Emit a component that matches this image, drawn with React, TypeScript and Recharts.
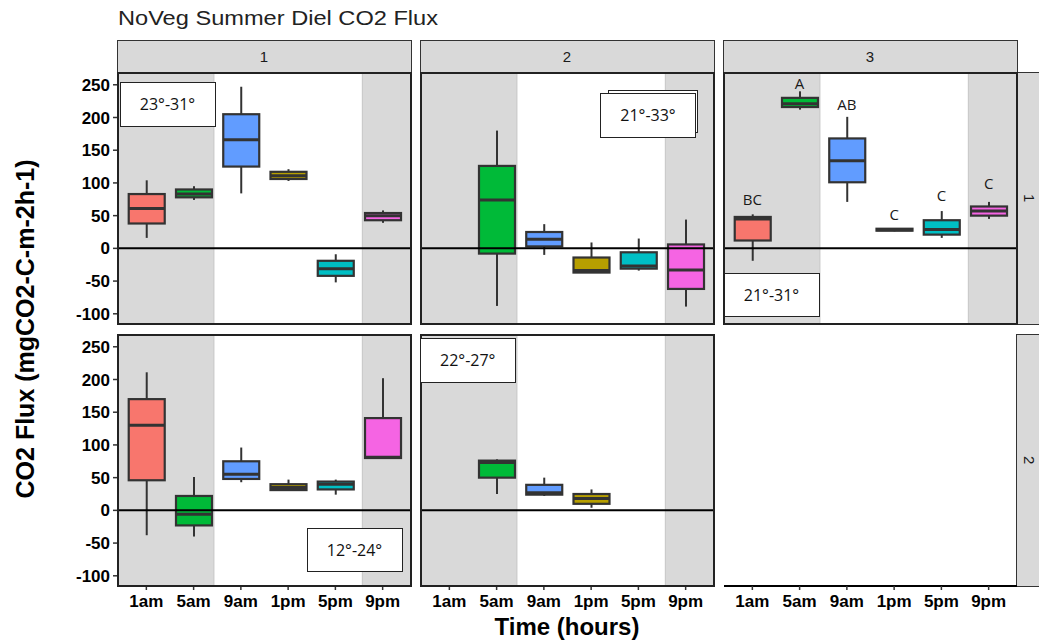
import React from 'react';
import { ComposedChart, Bar, Scatter, XAxis, YAxis, ReferenceArea, ReferenceLine } from 'recharts';

const times = ['1am', '5am', '9am', '1pm', '5pm', '9pm'];
const timeFills = ['#F8766D', '#00BA38', '#619CFF', '#B79F00', '#00BFC4', '#F564E3'];
const yTicks = [-100, -50, 0, 50, 100, 150, 200, 250];
const yDomain = [-115.6, 268];
// dark hours shading, in x units (times sit at 1..6)
const nightBands = [[0.4, 2.43], [5.57, 6.6]];

// [lower whisker, q1, median, q3, upper whisker] per time, null = no data
const site1Row1 = [
  [16, 38, 61, 83, 104],
  [74, 78, 83, 90, 95],
  [84, 125, 166, 205, 247],
  [103, 106, 111, 117, 121],
  [-52, -42, -31, -19, -9],
  [39, 43, 50, 54, 58],
];
const site2Row1 = [
  null,
  [-88, -8, 74, 126, 180],
  [-10, 3, 14, 25, 37],
  [-37, -37, -34, -14, 9],
  [-34, -31, -27, -6, 15],
  [-89, -62, -33, 6, 44],
];
const site3Row1 = [
  [-19, 12, 45, 48, 52],
  [212, 216, 221, 230, 240],
  [71, 101, 134, 168, 201],
  [26, 27, 28.5, 30, 31],
  [16, 21, 29, 43, 57],
  [45, 50, 57, 64, 71],
];
const site1Row2 = [
  [-38, 46, 130, 170, 211],
  [-40, -23, -6, 22, 51],
  [43, 48, 55, 75, 96],
  [31, 31, 35, 40, 47],
  [24, 32, 40, 44, 47],
  [80, 80, 81, 141, 202],
];
const site2Row2 = [
  null,
  [25, 50, 73, 76, 78],
  [22, 24, 27, 39, 50],
  [4, 10, 18, 25, 32],
  null,
  null,
];
const site3Letters = ['BC', 'A', 'AB', 'C', 'C', 'C'];
const site3LetterY = [76, 252, 220, 53, 82, 100];

const COLS = [117.5, 420.5, 723.5];
const ROWS = [72.5, 334.5];
const PW = 293;
const PH = 251;
const EDGE = '#333333';

const toRows = (boxes: (number[] | null)[], letters?: string[], letterY?: number[]) =>
  boxes
    .map((b, i) =>
      b
        ? {
            x: i + 1,
            time: times[i],
            fill: timeFills[i],
            lo: b[0],
            q1: b[1],
            med: b[2],
            q3: b[3],
            hi: b[4],
            letter: letters ? letters[i] : undefined,
            letterY: letterY ? letterY[i] : undefined,
          }
        : null
    )
    .filter(Boolean) as any[];

const BoxShape = (props: any) => {
  const { x, y, width, height, payload } = props;
  if (!payload) return null;
  const top = Math.min(y, y + height);
  const h = Math.abs(height);
  const k = h / (payload.hi - payload.lo);
  const py = (v: number) => top + (payload.hi - v) * k;
  const cx = x + width / 2;
  return (
    <g>
      <line x1={cx} x2={cx} y1={py(payload.hi)} y2={py(payload.q3)} stroke={EDGE} strokeWidth={2} />
      <line x1={cx} x2={cx} y1={py(payload.q1)} y2={py(payload.lo)} stroke={EDGE} strokeWidth={2} />
      <rect
        x={x}
        y={py(payload.q3)}
        width={width}
        height={Math.max(py(payload.q1) - py(payload.q3), 0.5)}
        fill={payload.fill}
        stroke={EDGE}
        strokeWidth={2.2}
      />
      <line x1={x} x2={x + width} y1={py(payload.med)} y2={py(payload.med)} stroke={EDGE} strokeWidth={3} />
    </g>
  );
};

const LetterShape = (props: any) => (
  <text
    x={props.cx}
    y={props.cy}
    textAnchor="middle"
    dominantBaseline="central"
    fontFamily="'Open Sans', sans-serif"
    fontSize={15}
    fill="#1a1a1a"
  >
    {props.payload.letter}
  </text>
);

type PanelProps = {
  rows: any[];
  col: number;
  row: number;
  showY?: boolean;
  showX?: boolean;
  empty?: boolean;
  letters?: boolean;
};

const Panel = ({ rows, col, row, showY, showX, empty, letters }: PanelProps) => {
  const yw = showY ? 60 : 0;
  const xh = showX ? 45 : 0;
  const left = COLS[col];
  const top = ROWS[row];
  return (
    <>
      <div style={{ position: 'absolute', left: left - yw, top }}>
        <ComposedChart width={PW + yw} height={PH + xh} data={rows} margin={{ top: 0, right: 0, bottom: 0, left: 0 }}>
          <XAxis
            type="number"
            dataKey="x"
            domain={[0.4, 6.6]}
            ticks={[1, 2, 3, 4, 5, 6]}
            allowDataOverflow
            interval={0}
            hide={!showX}
            height={xh}
            tickFormatter={(v: number) => times[v - 1]}
            tick={{ fill: '#000', fontSize: 17, fontWeight: 'bold' }}
            tickLine={{ stroke: EDGE, strokeWidth: 1.5 }}
            tickSize={4}
            tickMargin={5}
            axisLine={empty ? { stroke: '#000', strokeWidth: 2 } : false}
          />
          <YAxis
            type="number"
            domain={yDomain}
            ticks={yTicks}
            allowDataOverflow
            interval={0}
            hide={!showY}
            width={yw}
            tick={{ fill: '#000', fontSize: 17, fontWeight: 'bold' }}
            tickLine={{ stroke: EDGE, strokeWidth: 1.5 }}
            tickSize={5}
            tickMargin={3}
            axisLine={false}
          />
          {!empty &&
            nightBands.map((b, i) => (
              <ReferenceArea key={i} x1={b[0]} x2={b[1]} fill="#d9d9d9" fillOpacity={1} stroke="#c6c6c6" strokeWidth={1} />
            ))}
          {!empty && (
            <Bar dataKey={(d: any) => [d.lo, d.hi]} barSize={36} shape={BoxShape} isAnimationActive={false} />
          )}
          {letters && <Scatter dataKey="letterY" shape={LetterShape} isAnimationActive={false} />}
          {!empty && <ReferenceLine y={0} stroke="#000" strokeWidth={2} />}
        </ComposedChart>
      </div>
      {!empty && (
        <div
          style={{
            position: 'absolute',
            left: left - 1,
            top: top - 1,
            width: PW + 2,
            height: PH + 2,
            border: '2px solid #222',
            boxSizing: 'border-box',
            pointerEvents: 'none',
          }}
        />
      )}
    </>
  );
};

const tempLabels = [
  { text: '23°-31°', left: 119.5, top: 81.5, w: 96, h: 45 },
  { text: '21°-33°', left: 600, top: 92.5, w: 96, h: 45.5, shadow: true },
  { text: '21°-31°', left: 723.5, top: 272.5, w: 96, h: 44 },
  { text: '12°-24°', left: 306.5, top: 527.5, w: 96, h: 44 },
  { text: '22°-27°', left: 419.5, top: 337.5, w: 96.5, h: 45 },
];

const stripStyle: React.CSSProperties = {
  position: 'absolute',
  background: '#d9d9d9',
  border: '1.5px solid #333',
  boxSizing: 'border-box',
  display: 'flex',
  alignItems: 'center',
  justifyContent: 'center',
  fontSize: 15,
  color: '#1a1a1a',
};

export default function App() {
  return (
    <div
      style={{
        position: 'absolute',
        left: 0,
        top: 0,
        width: 1039,
        height: 644,
        background: '#fff',
        overflow: 'hidden',
        fontFamily: "'Liberation Sans', Arial, sans-serif",
      }}
    >
      <div
        style={{
          position: 'absolute',
          left: 118,
          top: 8,
          fontSize: 20,
          lineHeight: 1,
          color: '#222',
          whiteSpace: 'nowrap',
          transform: 'scaleX(1.18)',
          transformOrigin: 'left center',
        }}
      >
        NoVeg Summer Diel CO2 Flux
      </div>

      {['1', '2', '3'].map((s, i) => (
        <div key={s} style={{ ...stripStyle, left: COLS[i] - 1, top: 40, width: PW + 2, height: 33.5 }}>
          {s}
        </div>
      ))}
      {['1', '2'].map((s, i) => (
        <div key={s} style={{ ...stripStyle, left: 1016, top: ROWS[i] - 1, width: 25, height: PH + 2, borderRight: 'none' }}>
          <span style={{ writingMode: 'vertical-rl', lineHeight: 1 }}>{s}</span>
        </div>
      ))}

      <Panel rows={toRows(site1Row1)} col={0} row={0} showY />
      <Panel rows={toRows(site2Row1)} col={1} row={0} />
      <Panel rows={toRows(site3Row1, site3Letters, site3LetterY)} col={2} row={0} letters />
      <Panel rows={toRows(site1Row2)} col={0} row={1} showY showX />
      <Panel rows={toRows(site2Row2)} col={1} row={1} showX />
      <Panel rows={[]} col={2} row={1} showX empty />

      {tempLabels.map((t) => (
        <React.Fragment key={t.text}>
          {t.shadow && (
            <div
              style={{
                position: 'absolute',
                left: t.left + 8,
                top: t.top - 3,
                width: t.w - 6,
                height: t.h - 2,
                border: '1.5px solid #222',
                background: '#fff',
                boxSizing: 'border-box',
              }}
            />
          )}
          <div
            style={{
              position: 'absolute',
              left: t.left,
              top: t.top,
              width: t.w,
              height: t.h,
              border: '1.5px solid #222',
              background: '#fff',
              boxSizing: 'border-box',
              display: 'flex',
              alignItems: 'center',
              justifyContent: 'center',
              fontFamily: "'Open Sans', sans-serif",
              fontSize: 16,
              color: '#111',
            }}
          >
            {t.text}
          </div>
        </React.Fragment>
      ))}

      <div
        style={{
          position: 'absolute',
          left: 25,
          top: 329,
          transform: 'translate(-50%, -50%) rotate(-90deg)',
          fontSize: 25,
          fontWeight: 'bold',
          whiteSpace: 'nowrap',
          color: '#000',
        }}
      >
        CO2 Flux (mgCO2-C-m-2h-1)
      </div>
      <div
        style={{
          position: 'absolute',
          left: 567,
          top: 627,
          transform: 'translate(-50%, -50%)',
          fontSize: 24,
          fontWeight: 'bold',
          whiteSpace: 'nowrap',
          color: '#000',
        }}
      >
        Time (hours)
      </div>
    </div>
  );
}
